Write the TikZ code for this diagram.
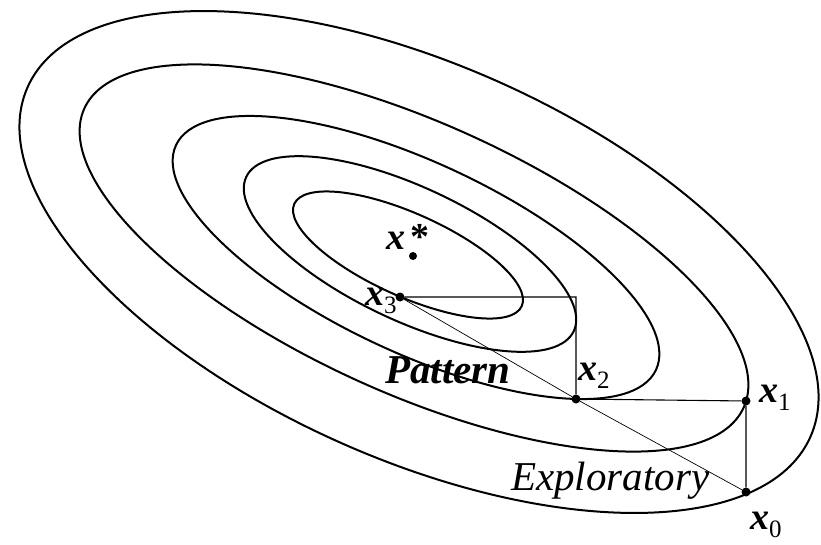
\documentclass[tikz,border=0pt]{standalone}
\usepackage{fontspec}
\setmainfont{Liberation Serif}

\tikzset{
  curva/.style={line width=2pt},
  paso/.style={line width=1.1pt},
  fino/.style={line width=0.7pt},
  punto/.style={circle, fill, inner sep=0pt, minimum size=9pt},
  etiq/.style={inner sep=0pt, anchor=base west, font=\fontsize{38}{40}\selectfont},
  texto/.style={etiq, font=\fontsize{41}{43}\selectfont},
}
% punto x_i: x en negrita cursiva con subindice
\newcommand{\vx}[1]{\textbf{\textit{x}}\raisebox{-8pt}{\fontsize{25}{25}\selectfont #1}}

\begin{document}
\begin{tikzpicture}[x=1pt,y=-1pt]
\useasboundingbox (0,0) rectangle (821,544);
\begin{scope}
    %——————————————————————————————————————————————
    % Curvas de nivel (elipses giradas)
    %——————————————————————————————————————————————
    \draw[curva, shift={(408,255)}, rotate=-24.2] (0,0) ellipse [x radius=124.7, y radius=41.4];
    \draw[curva, shift={(410,254)}, rotate=-25.2] (0,0) ellipse [x radius=181, y radius=66.6];
    \draw[curva, shift={(416,257.5)}, rotate=-25.1] (0,0) ellipse [x radius=265, y radius=95];
    \draw[curva, shift={(414,258)}, rotate=-24.4] (0,0) ellipse [x radius=362, y radius=135];
    \draw[curva, shift={(419,262)}, rotate=-24.1] (0,0) ellipse [x radius=428.7, y radius=197];

    %——————————————————————————————————————————————
    % Puntos de la busqueda
    %——————————————————————————————————————————————
    \node[punto] (x0) at (746,492) {};
    \node[punto] (x1) at (746,401) {};
    \node[punto] (x2) at (576,399) {};
    \node[punto] (x3) at (400,297) {};
    \node[punto, minimum size=8pt] (xs) at (413,256) {};
    % esquina del paso exploratorio
    \coordinate (c23) at (x2 |- x3);

    %——————————————————————————————————————————————
    % Pasos exploratorios y de patron
    %——————————————————————————————————————————————
    \draw[paso] (x0) -- (x1) -- (x2) -- (c23) -- (x3);
    \draw[fino] (x0) -- (x2) -- (x3);

    %——————————————————————————————————————————————
    % Etiquetas
    %——————————————————————————————————————————————
    \node[etiq] (l0) at (750,529) {\vx{0}};
    \node[etiq] (l1) at (759,402) {\vx{1}};
    \node[etiq] (l2) at (578,380) {\vx{2}};
    \node[etiq] (l3) at (365,305) {\vx{3}};
    \node[etiq] (ls) at (386,249) {\textbf{\textit{x}}\kern5pt\textbf{*}};
    \node[texto] (lpat) at (385,383) {\textbf{\textit{Pattern}}};
    \node[texto] (lexp) at (511,490) {\textit{Exploratory}};
\end{scope}
\end{tikzpicture}
\end{document}
